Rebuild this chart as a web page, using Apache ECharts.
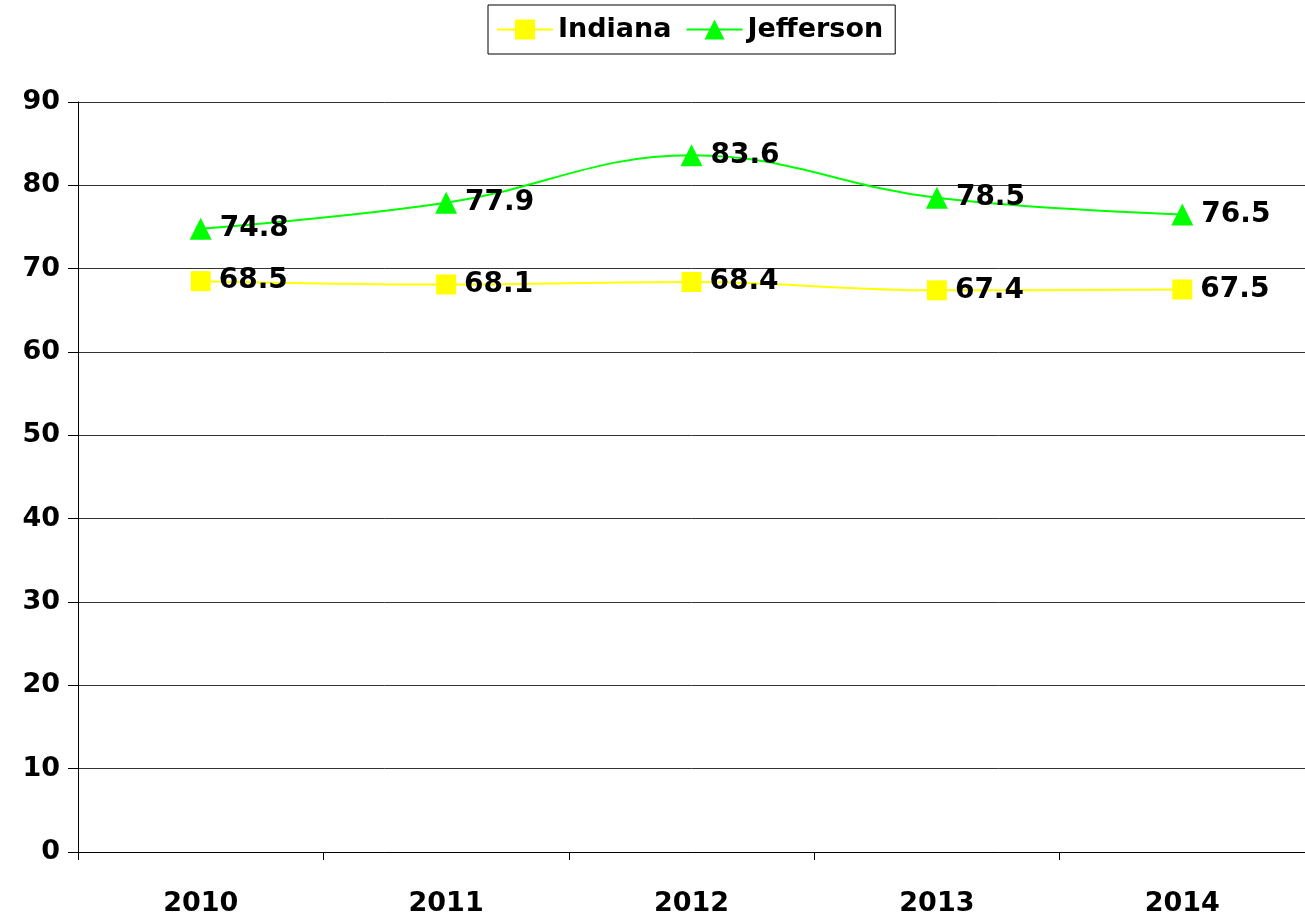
<!DOCTYPE html>
<html><head><meta charset="utf-8">
<script src="https://cdn.jsdelivr.net/npm/echarts@6/dist/echarts.min.js"></script>
<style>html,body{margin:0;padding:0;background:#fff}#c{width:1305px;height:919px}</style>
</head><body><div id="c"></div>
<script>
const categories = ['2010','2011','2012','2013','2014'];
const indiana = [68.5, 68.1, 68.4, 67.4, 67.5];
const jefferson = [74.8, 77.9, 83.6, 78.5, 76.5];
const yTicks = {min: 0, max: 90, interval: 10};

const font = 'DejaVu Sans';
const chart = echarts.init(document.getElementById('c'));
const lbl = {show: true, position: 'right', distance: 8, color: '#000', fontFamily: font, fontSize: 28, fontWeight: 'bold', formatter: p => p.value.toFixed(1)};
chart.setOption({
  animation: false,
  legend: {
    top: 5, left: 488, itemWidth: 56, itemHeight: 25, itemGap: 14,
    borderColor: '#000', borderWidth: 1, padding: [11, 12, 11, 8],
    textStyle: {fontFamily: font, fontSize: 27, fontWeight: 'bold', color: '#000'},
    data: ['Indiana', 'Jefferson']
  },
  grid: {left: 78, right: 0, top: 102, bottom: 67, containLabel: false},
  xAxis: {
    type: 'category', data: categories, boundaryGap: true,
    axisLine: {lineStyle: {color: '#000', width: 1}},
    axisTick: {show: true, length: 8, lineStyle: {color: '#000'}},
    axisLabel: {color: '#000', fontFamily: font, fontSize: 27, fontWeight: 'bold', margin: 38}
  },
  yAxis: {
    type: 'value', min: yTicks.min, max: yTicks.max, interval: yTicks.interval,
    axisLine: {show: true, lineStyle: {color: '#000', width: 1}},
    axisTick: {show: true, length: 10, lineStyle: {color: '#000'}},
    axisLabel: {color: '#000', fontFamily: font, fontSize: 27, fontWeight: 'bold', margin: 18},
    splitLine: {lineStyle: {color: '#333', width: 1}}
  },
  series: [
    {name: 'Indiana', type: 'line', data: indiana, smooth: 0.4, symbol: 'rect', symbolSize: 20,
     itemStyle: {color: '#ffff00'}, lineStyle: {color: '#ffff00', width: 2}, label: lbl},
    {name: 'Jefferson', type: 'line', data: jefferson, smooth: 0.4, symbol: 'triangle', symbolSize: 22,
     itemStyle: {color: '#00ff00'}, lineStyle: {color: '#00ff00', width: 2}, label: lbl}
  ]
});
</script></body></html>
